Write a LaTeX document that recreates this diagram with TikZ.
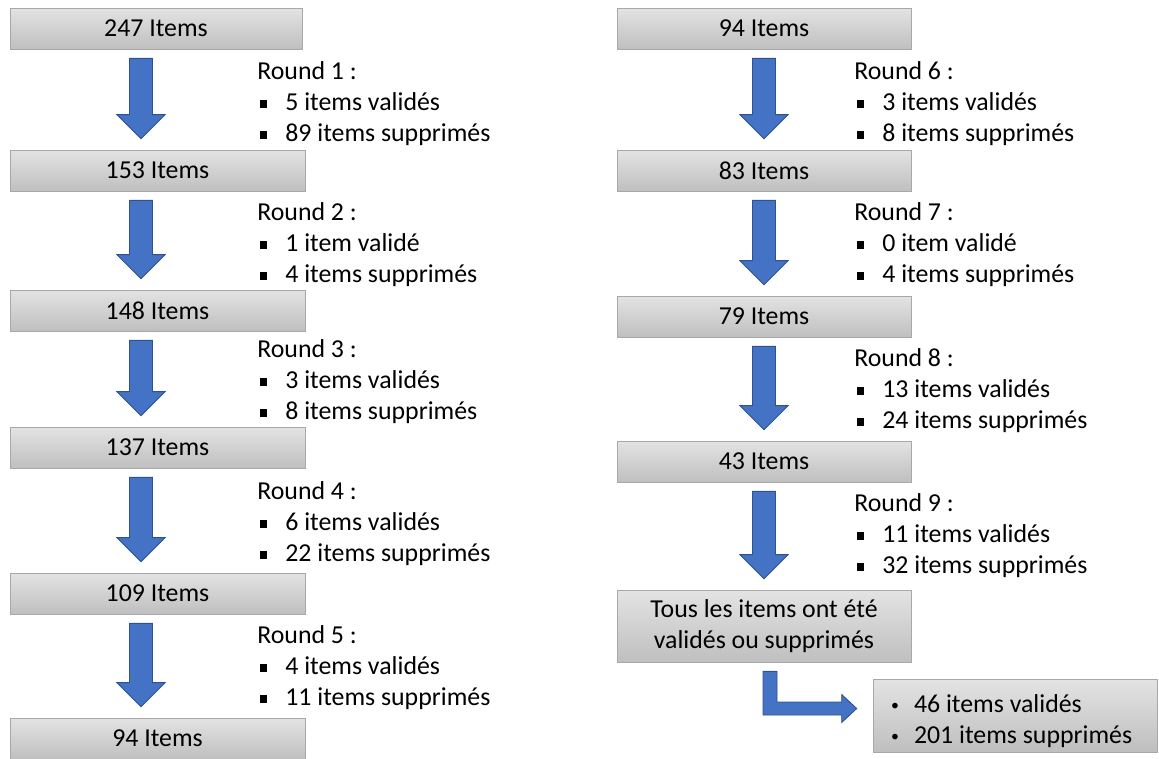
\documentclass[tikz,border=0pt]{standalone}
\usepackage{fontspec}
\setmainfont{Carlito}
\usepackage{tikz}
\usetikzlibrary{positioning}
\usetikzlibrary{calc}

% petit carré noir des listes
\newcommand{\carre}{\makebox[0.56cm][l]{\hspace{0.05cm}\rule[0.05cm]{0.15cm}{0.15cm}}}
\newcommand{\puce}{\makebox[0.66cm][l]{\hspace{0.2cm}\raisebox{0.04cm}{\fontsize{9}{9}\selectfont•}}}

% grosse flèche bleue vers le bas, de #1 à #2, décalée de #3
\newcommand{\flecheBas}[3]{%
  \filldraw[fleche] let \p1=([xshift=#3]#1.south), \p2=([xshift=#3]#2.north) in
    (\x1-0.23cm,\y1-0.18cm) -- (\x1+0.23cm,\y1-0.18cm) -- (\x1+0.23cm,\y2+0.7cm)
    -- (\x1+0.48cm,\y2+0.7cm) -- (\x1,\y2+0.22cm) -- (\x1-0.48cm,\y2+0.7cm)
    -- (\x1-0.23cm,\y2+0.7cm) -- cycle;}

\begin{document}
\begin{tikzpicture}[x=0.02cm,y=-0.02cm,
    every node/.style={font=\fontsize{14.7}{17.6}\selectfont, text=black},
    boite/.style={draw=bord, top color=haut, bottom color=bas,
      minimum width=5.9cm, minimum height=0.82cm, inner sep=0pt},
    etiquette/.style={anchor=north west, inner sep=0pt, align=flush left},
    fleche/.style={draw=bleuB, line width=0.5pt, fill=bleu}]
  \definecolor{haut}{HTML}{E3E3E3}
  \definecolor{bas}{HTML}{BFBFBF}
  \definecolor{bord}{HTML}{A8A8A8}
  \definecolor{bleu}{HTML}{4472C4}
  \definecolor{bleuB}{HTML}{2F528F}
  \useasboundingbox (0,0) rectangle (1159,758);

  % colonne de gauche
  \node[boite, minimum width=5.84cm] (b247) at (156,28.5) {247 Items};
  \node[boite] (b153) at (157.5,170.5) {153 Items};
  \node[boite] (b148) at (157.5,310.5) {148 Items};
  \node[boite] (b137) at (157.5,447.5) {137 Items};
  \node[boite] (b109) at (157.5,593.5) {109 Items};
  \node[boite] (b94) at (157.5,738.5) {94 Items};

  \flecheBas{b247}{b153}{-0.3cm}
  \flecheBas{b153}{b148}{-0.33cm}
  \flecheBas{b148}{b137}{-0.33cm}
  \flecheBas{b137}{b109}{-0.33cm}
  \flecheBas{b109}{b94}{-0.33cm}

  \node[etiquette] (r1) at (257,61) {Round 1 :\\\carre 5 items validés\\\carre 89 items supprimés};
  \node[etiquette] (r2) at (257,202) {Round 2 :\\\carre 1 item validé\\\carre 4 items supprimés};
  \node[etiquette] (r3) at (257,339) {Round 3 :\\\carre 3 items validés\\\carre 8 items supprimés};
  \node[etiquette] (r4) at (257,481) {Round 4 :\\\carre 6 items validés\\\carre 22 items supprimés};
  \node[etiquette] (r5) at (257,625) {Round 5 :\\\carre 4 items validés\\\carre 11 items supprimés};

  % colonne de droite
  \node[boite, minimum width=5.88cm] (d94) at (764,28.5) {94 Items};
  \node[boite, minimum width=5.88cm] (d83) at (764,170.5) {83 Items};
  \node[boite, minimum width=5.88cm] (d79) at (764,316.5) {79 Items};
  \node[boite, minimum width=5.88cm] (d43) at (764,461.5) {43 Items};
  \node[boite, minimum width=5.88cm, minimum height=1.44cm, align=center] (fin) at (764,626)
    {Tous les items ont été\\validés ou supprimés};

  \flecheBas{d94}{d83}{0cm}
  \flecheBas{d83}{d79}{0cm}
  \flecheBas{d79}{d43}{0cm}
  \flecheBas{d43}{fin}{0cm}

  \node[etiquette] (r6) at (854,61) {Round 6 :\\\carre 3 items validés\\\carre 8 items supprimés};
  \node[etiquette] (r7) at (854,202) {Round 7 :\\\carre 0 item validé\\\carre 4 items supprimés};
  \node[etiquette] (r8) at (854,348) {Round 8 :\\\carre 13 items validés\\\carre 24 items supprimés};
  \node[etiquette] (r9) at (854,493) {Round 9 :\\\carre 11 items validés\\\carre 32 items supprimés};

  % bilan final
  \node[boite, minimum width=5.68cm, minimum height=1.46cm, inner xsep=0.16cm,
    text width=5.36cm, align=flush left] (bilan) at (1015,715.5)
    {\rule{0pt}{16.5pt}\puce 46 items validés\\\puce 201 items supprimés};

  \filldraw[fleche] let \p1=(fin.south), \p2=(bilan.west) in
    (\x1-0.02cm,\y1-0.18cm) -- (\x1+0.26cm,\y1-0.18cm) -- (\x1+0.26cm,\y2+0.27cm)
    -- (\x2-0.62cm,\y2+0.27cm) -- (\x2-0.62cm,\y2+0.42cm) -- (\x2-0.32cm,\y2+0.14cm)
    -- (\x2-0.62cm,\y2-0.14cm) -- (\x2-0.62cm,\y2+0.01cm) -- (\x1-0.02cm,\y2+0.01cm) -- cycle;
\end{tikzpicture}
\end{document}
